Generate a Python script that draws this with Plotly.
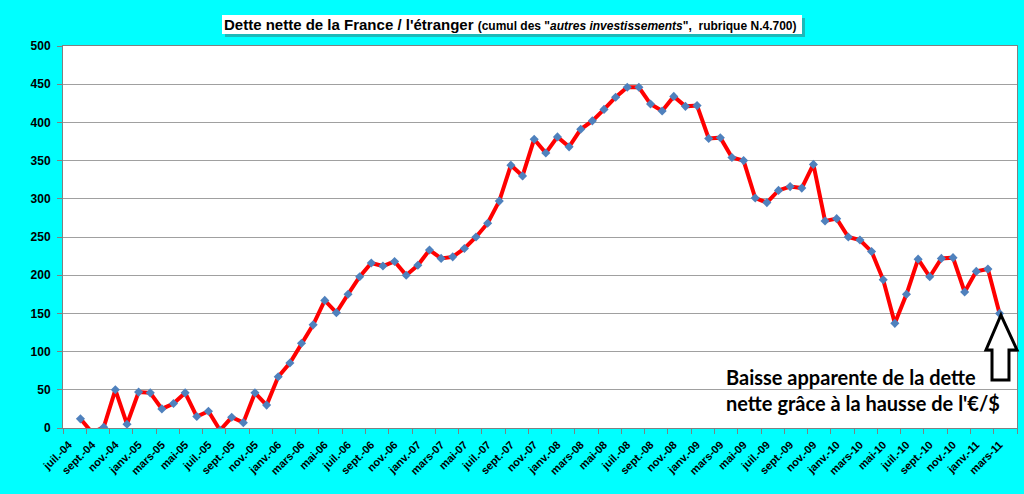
import plotly.graph_objects as go

mois = ["janv.", "févr.", "mars", "avr.", "mai", "juin",
        "juil.", "août", "sept.", "oct.", "nov.", "déc."]
annees = ["04", "05", "06", "07", "08", "09", "10", "11"]

# juil.-04 .. avr.-11, un point par mois
categories = [m + "-" + a for a in annees for m in mois]
categories = categories[6:6 + 82]

dette = [None, 12, -6, 1, 50, 5,
         47, 46, 25, 32, 46, 15, 22, -3, 14, 7, 46, 30,
         67, 85, 111, 135, 167, 151, 175, 198, 216, 212, 218, 200,
         213, 233, 222, 224, 235, 250, 268, 297, 344, 330, 378, 360,
         381, 368, 391, 402, 417, 433, 446, 446, 424, 415, 434, 421,
         422, 379, 380, 354, 350, 301, 295, 311, 316, 314, 345, 271,
         274, 250, 246, 231, 194, 137, 175, 221, 198, 222, 223, 178,
         205, 208, 150, None]

police = "Liberation Sans, Arial, sans-serif"

fig = go.Figure()
fig.add_trace(go.Scatter(
    x=categories, y=dette, mode="lines+markers",
    line=dict(color="#FF0000", width=4),
    marker=dict(symbol="diamond", size=7, color="#4F81BD"),
    hoverinfo="x+y", showlegend=False,
))

fig.update_layout(
    width=1024, height=494,
    paper_bgcolor="#00FFFF", plot_bgcolor="white",
    margin=dict(l=63, r=7, t=46, b=66),
    font=dict(family=police, color="black"),
)
fig.update_xaxes(
    type="category", range=[-0.5, 81.5], dtick=2, tick0=0,
    tickangle=-45, tickfont=dict(size=11, family=police),
    tickprefix="<b>", ticksuffix="</b>", ticklabelstandoff=5,
    ticks="outside", ticklen=5, tickcolor="#808080", tickson="boundaries",
    showline=True, linecolor="#808080", linewidth=1, mirror=True,
    showgrid=False, automargin=False,
)
fig.update_yaxes(
    range=[0, 500], dtick=50,
    tickfont=dict(size=12, family=police),
    tickprefix="<b>", ticksuffix="</b>", ticklabelstandoff=4,
    ticks="outside", ticklen=5, tickcolor="#808080",
    showline=True, linecolor="#808080", linewidth=1, mirror=True,
    showgrid=True, gridcolor="#A0A0A0", gridwidth=1, zeroline=False,
    automargin=False,
)

# cadre du titre avec ombre
def px_x(v):
    return (v - 63) / 954

def px_y(v):
    return (428 - v) / 382

fig.add_shape(type="rect", xref="paper", yref="paper",
              x0=px_x(225), x1=px_x(805), y0=px_y(37), y1=px_y(18),
              fillcolor="#2E8B8B", line_width=0, opacity=0.6, layer="above")
fig.add_shape(type="rect", xref="paper", yref="paper",
              x0=px_x(222), x1=px_x(802), y0=px_y(34), y1=px_y(15),
              fillcolor="white", line_width=0, layer="above")
fig.add_annotation(
    xref="paper", yref="paper", x=px_x(510), y=px_y(25),
    xanchor="center", yanchor="middle", showarrow=False,
    text="<b>Dette nette de la France / l'étranger</b> "
         "<span style='font-size:12px'><b>(cumul des \"<i>autres investissements</i>\",  "
         "rubrique N.4.700)</b></span>",
    font=dict(size=15, family=police, color="black"),
)

# flèche creuse vers le dernier point
fleche = [(1001, 315), (1017, 350), (1009, 350), (1009, 380),
          (992, 380), (992, 350), (986, 350)]
chemin = "M " + " L ".join(f"{px_x(a):.4f},{px_y(b):.4f}" for a, b in fleche) + " Z"
fig.add_shape(type="path", xref="paper", yref="paper", path=chemin,
              fillcolor="white", line=dict(color="black", width=3), layer="above")

fig.add_annotation(
    xref="paper", yref="paper", x=px_x(724), y=px_y(390),
    xanchor="left", yanchor="middle", align="left", showarrow=False,
    text="<b>Baisse apparente de la dette<br>nette grâce à la hausse de l'€/$</b>",
    font=dict(size=20, family="Lato, Carlito, Calibri, sans-serif", color="black"),
)

# pas de marge autour de la figure dans la page
fig.write_html("out.html", config={"displayModeBar": False},
               post_script="document.body.style.margin='0';"
                           "document.body.style.background='#00FFFF';")
